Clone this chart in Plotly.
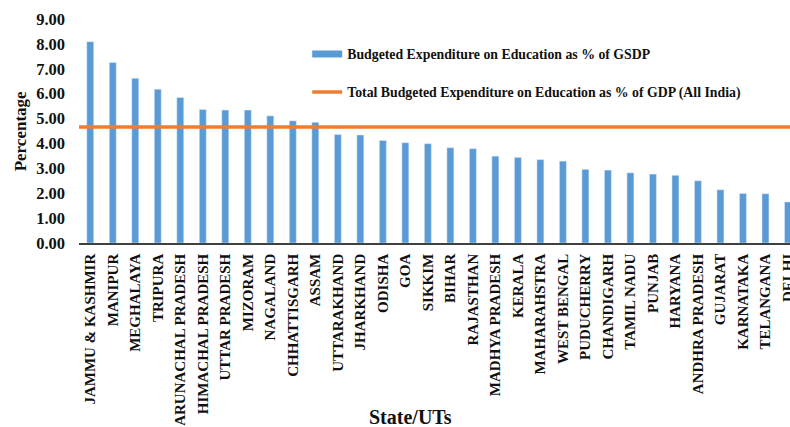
import plotly.graph_objects as go

states = ["JAMMU & KASHMIR", "MANIPUR", "MEGHALAYA", "TRIPURA", "ARUNACHAL PRADESH",
          "HIMACHAL PRADESH", "UTTAR PRADESH", "MIZORAM", "NAGALAND", "CHHATTISGARH",
          "ASSAM", "UTTARAKHAND", "JHARKHAND", "ODISHA", "GOA", "SIKKIM", "BIHAR",
          "RAJASTHAN", "MADHYA PRADESH", "KERALA", "MAHARAHSTRA", "WEST BENGAL",
          "PUDUCHERRY", "CHANDIGARH", "TAMIL NADU", "PUNJAB", "HARYANA",
          "ANDHRA PRADESH", "GUJARAT", "KARNATAKA", "TELANGANA", "DELHI"]
gsdp_share = [8.09, 7.25, 6.62, 6.18, 5.85, 5.36, 5.34, 5.34, 5.11, 4.91,
              4.85, 4.36, 4.34, 4.12, 4.03, 3.99, 3.83, 3.79, 3.49, 3.44,
              3.35, 3.29, 2.96, 2.93, 2.82, 2.77, 2.72, 2.50, 2.14, 1.99,
              1.98, 1.65]
all_india = 4.66
y_ticks = [0, 1, 2, 3, 4, 5, 6, 7, 8, 9]
y_tick_labels = ["0.00", "1.00", "2.00", "3.00", "4.00", "5.00", "6.00", "7.00", "8.00", "9.00"]

label_bar = "Budgeted Expenditure on Education as % of GSDP"
label_line = "Total Budgeted Expenditure on Education as % of GDP (All India)"

BLUE = "#5B9BD5"
ORANGE = "#ED7D31"
FONT = "Liberation Serif"
TXT = "#111111"

fig = go.Figure()
fig.add_trace(go.Bar(x=list(range(len(states))), y=gsdp_share, marker_color=BLUE,
                     showlegend=False, name=label_bar, cliponaxis=True))
# legend entry for the bars (wide flat swatch as in the reference)
fig.add_trace(go.Scatter(x=[None], y=[None], mode="lines", name=label_bar,
                         line=dict(color=BLUE, width=7), legend="legend"))
fig.add_trace(go.Scatter(x=[0, 1], y=[all_india, all_india], mode="lines",
                         name=label_line, xaxis="x2",
                         line=dict(color=ORANGE, width=3.5), legend="legend2"))

W, H = 790, 427
L, T, BOT = 78.7, 19.0, 243.0   # plot box in page pixels
B = H - BOT
plot_w = W - L
plot_h = BOT - T


def px(xp):
    return (xp - L) / plot_w


def py(yp):
    return (BOT - yp) / plot_h


fig.update_layout(
    width=W, height=H,
    margin=dict(l=L, r=0, t=T, b=B, autoexpand=False),
    paper_bgcolor="white", plot_bgcolor="white",
    bargap=0.69,
    font=dict(family=FONT, color=TXT),
    xaxis=dict(
        range=[-0.5, 31.09], tickmode="array", tickvals=list(range(len(states))),
        ticktext=states, tickangle=-90, showgrid=False, zeroline=False,
        showline=True, linecolor="#404040", linewidth=1.5, ticks="",
        ticklabelstandoff=3, ticklabeloverflow="allow",
        tickfont=dict(family=FONT, size=15, color=TXT, weight="bold"),
        automargin=False, fixedrange=True,
    ),
    xaxis2=dict(overlaying="x", range=[0, 1], visible=False, fixedrange=True),
    yaxis=dict(
        range=[0, 9], tickmode="array", tickvals=y_ticks, ticktext=y_tick_labels,
        showgrid=False, zeroline=False, showline=False, ticks="",
        ticklabelstandoff=13,
        tickfont=dict(family=FONT, size=16.5, color=TXT, weight="bold"),
        automargin=False, fixedrange=True,
    ),
    legend=dict(x=px(307), y=py(54), xanchor="left", yanchor="middle",
                bgcolor="rgba(0,0,0,0)",
                font=dict(family=FONT, size=13.8, color=TXT, weight="bold")),
    legend2=dict(x=px(307), y=py(92), xanchor="left", yanchor="middle",
                 bgcolor="rgba(0,0,0,0)",
                 font=dict(family=FONT, size=13.8, color=TXT, weight="bold")),
    annotations=[
        dict(text="<b>Percentage</b>", textangle=-90, xref="paper", yref="paper",
             x=px(20), y=py(131), xanchor="center", yanchor="middle", showarrow=False,
             font=dict(family=FONT, size=17, color=TXT)),
        dict(text="<b>State/UTs</b>", xref="paper", yref="paper",
             x=px(410), y=py(417), xanchor="center", yanchor="middle", showarrow=False,
             font=dict(family=FONT, size=20, color=TXT)),
    ],
)

fig.write_html(
    "out.html",
    config={"displayModeBar": False},
    post_script="document.body.style.margin='0px';document.body.style.overflow='hidden';",
)
